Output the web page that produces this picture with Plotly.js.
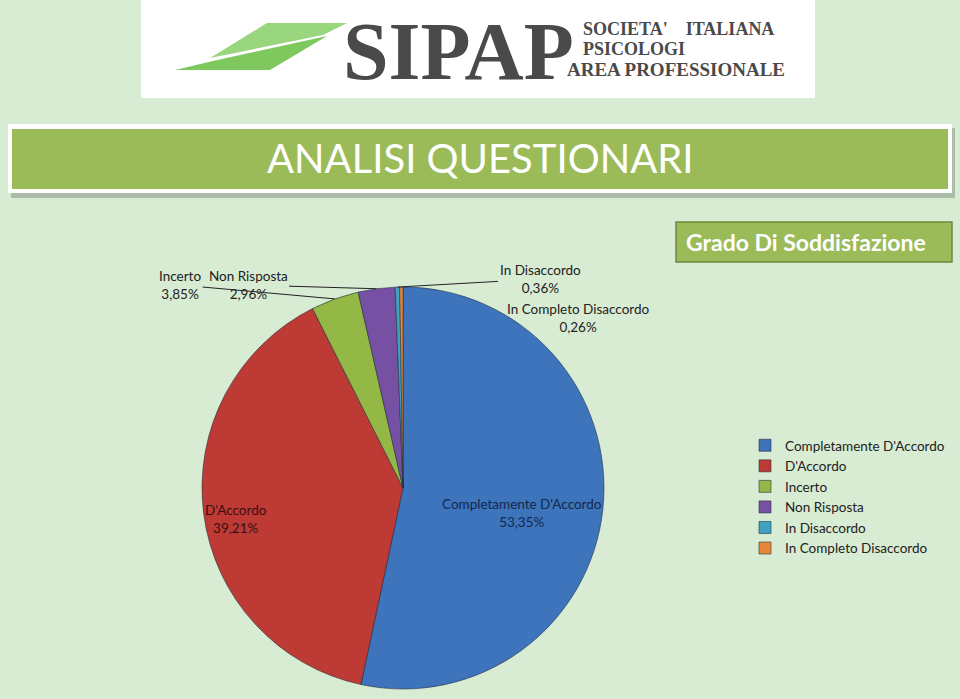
<!DOCTYPE html>
<html>
<head>
<meta charset="utf-8">
<script src="https://cdn.plot.ly/plotly-3.0.1.min.js"></script>
<style>html,body{margin:0;padding:0;background:#D8EBD3;}#chart{width:960px;height:699px;}</style>
</head>
<body>
<div id="chart"></div>
<script>
// ---- data ----
const categories = ["Completamente D'Accordo", "D'Accordo", "Incerto", "Non Risposta", "In Disaccordo", "In Completo Disaccordo"];
const percentages = [53.35, 39.21, 3.85, 2.96, 0.36, 0.26];
const chartTitle = "Grado Di Soddisfazione";
const pageTitle = "ANALISI QUESTIONARI";

// ---- style ----
const sliceColors = ['#3D74BC', '#BE3A35', '#93B845', '#7651A3', '#3FA3C0', '#E8873A'];
const W = 960, H = 699;
const px = x => x / W;
const py = y => 1 - y / H;
const cx = 403, cy = 488, R = 201;
const FONT = 'Lato, "Open Sans", sans-serif';

const fmt = v => v.toFixed(2).replace('.', ',');

const trace = {
  type: 'pie',
  labels: categories,
  values: percentages,
  sort: false,
  direction: 'clockwise',
  rotation: 0,
  marker: {colors: sliceColors, line: {color: 'rgba(30,40,60,0.55)', width: 1}},
  textinfo: 'none',
  hoverinfo: 'none',
  domain: {x: [px(cx - R), px(cx + R)], y: [py(cy + R), py(cy - R)]}
};

// edge point of a slice, computed from the data
function edgePoint(i) {
  const total = percentages.reduce((a, b) => a + b, 0);
  let cum = 0;
  for (let k = 0; k < i; k++) cum += percentages[k];
  const f = (cum + percentages[i] / 2) / total;
  const th = 2 * Math.PI * f;
  return [cx + R * Math.sin(th), cy - R * Math.cos(th)];
}

// label placement (layout only)
const labelPlacement = [
  {lx: 522, ly: 513, arrow: false, color: '#13284A'},
  {lx: 236, ly: 519, arrow: false, color: '#3A0E0E'},
  {lx: 180, ly: 285, arrow: true, color: '#222'},
  {lx: 248, ly: 285, arrow: true, color: '#222'},
  {lx: 540, ly: 279, arrow: true, color: '#222'},
  {lx: 578, ly: 318, arrow: false, color: '#222'}
];
const annotations = labelPlacement.map((s, i) => {
  const txt = categories[i] + '<br>' + fmt(percentages[i]) + '%';
  const font = {family: FONT, size: 13.5, color: s.color};
  if (s.arrow) {
    const [ex, ey] = edgePoint(i);
    return {xref: 'paper', yref: 'paper', x: px(ex), y: py(ey), ax: s.lx - ex, ay: s.ly - ey,
      text: txt, showarrow: true, arrowhead: 0, arrowwidth: 1, arrowcolor: '#222', font: font, align: 'center'};
  }
  return {xref: 'paper', yref: 'paper', x: px(s.lx), y: py(s.ly), xanchor: 'center', yanchor: 'middle',
    text: txt, showarrow: false, font: font, align: 'center'};
});

const serif = '"Liberation Serif", "DejaVu Serif", serif';
annotations.push(
  {xref: 'paper', yref: 'paper', x: px(480), y: py(158), xanchor: 'center', yanchor: 'middle', showarrow: false,
    text: pageTitle, font: {family: FONT, size: 40, color: '#FFFFFF'}},
  {xref: 'paper', yref: 'paper', x: px(684), y: py(242), xanchor: 'left', yanchor: 'middle', showarrow: false,
    text: '<b>' + chartTitle + '</b>', font: {family: FONT, size: 23, color: '#FFFFFF'}},
  // logo text
  {xref: 'paper', yref: 'paper', x: px(341), y: py(51), xanchor: 'left', yanchor: 'middle', showarrow: false,
    text: '<b>SIPAP</b>', font: {family: serif, size: 82, color: '#4A4A4A'}},
  {xref: 'paper', yref: 'paper', x: px(581), y: py(28.5), xanchor: 'left', yanchor: 'middle', showarrow: false,
    text: "<b>SOCIETA'    ITALIANA</b>", font: {family: serif, size: 18, color: '#4A4A4A'}},
  {xref: 'paper', yref: 'paper', x: px(581), y: py(49), xanchor: 'left', yanchor: 'middle', showarrow: false,
    text: '<b>PSICOLOGI</b>', font: {family: serif, size: 18, color: '#4A4A4A'}},
  {xref: 'paper', yref: 'paper', x: px(565), y: py(69.5), xanchor: 'left', yanchor: 'middle', showarrow: false,
    text: '<b>AREA PROFESSIONALE</b>', font: {family: serif, size: 19, color: '#4A4A4A'}}
);

const rect = (x0, y0, x1, y1, fill, line) => ({type: 'rect', xref: 'paper', yref: 'paper', layer: 'below',
  x0: px(x0), x1: px(x1), y0: py(y1), y1: py(y0), fillcolor: fill, line: line || {width: 0}});
const poly = (pts, fill) => ({type: 'path', xref: 'paper', yref: 'paper', layer: 'below',
  path: 'M ' + pts.map(p => px(p[0]) + ',' + py(p[1])).join(' L ') + ' Z', fillcolor: fill, line: {width: 0}});

const shapes = [
  rect(141, 0, 815, 98, '#FFFFFF'),
  poly([[210, 58], [267, 23], [347, 23], [323, 35]], '#9AD67E'),
  poly([[175, 70], [213, 61], [327, 36], [270, 70]], '#7EC85E'),
  rect(11, 128, 955, 198, 'rgba(90,100,90,0.35)'),
  rect(8, 124, 952, 193, '#FFFFFF'),
  rect(12, 129, 948, 189, '#9BBB59'),
  rect(676, 222, 952, 262, '#9BBB59', {color: '#71893F', width: 1.5})
];

const layout = {
  width: W, height: H,
  margin: {l: 0, r: 0, t: 0, b: 0},
  paper_bgcolor: '#D8EBD3',
  plot_bgcolor: '#D8EBD3',
  separators: ',.',
  showlegend: true,
  legend: {x: px(745), y: py(430), xanchor: 'left', yanchor: 'top', bgcolor: 'rgba(0,0,0,0)',
    font: {family: FONT, size: 13.5, color: '#222'}},
  shapes: shapes,
  annotations: annotations
};

Plotly.newPlot('chart', [trace], layout, {displayModeBar: false, staticPlot: true});
</script>
</body>
</html>
